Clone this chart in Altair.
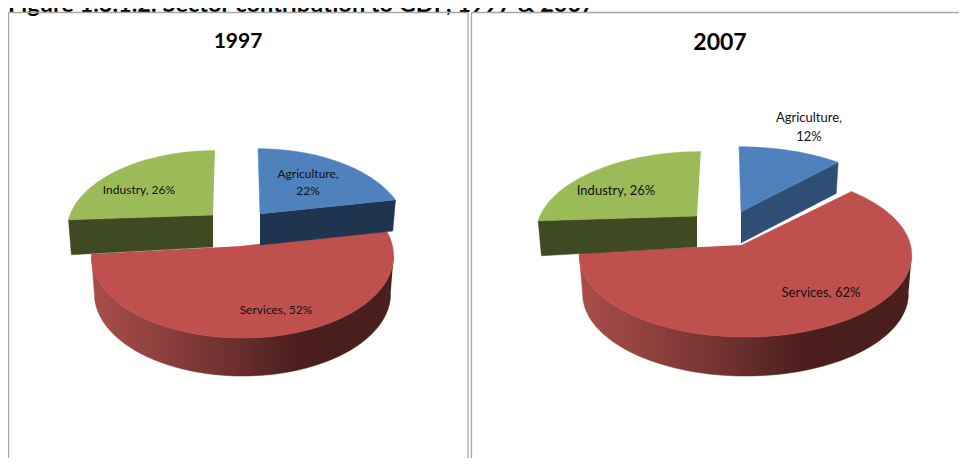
import math
import altair as alt
import pandas as pd

# ---- values ----
caption = "Figure 1.3.1.2: Sector contribution to GDP, 1997 & 2007"
years = ["1997", "2007"]
sectors = ["Agriculture", "Services", "Industry"]
shares_1997 = [22, 52, 26]
shares_2007 = [12, 62, 26]

# ---- styles ----
FONT = "Lato"
TOP = {"Agriculture": "#4F81BD", "Services": "#C0504D", "Industry": "#9BBB59"}
SIDE_1997 = {"Agriculture": "#1F344F", "Industry": "#3F4922"}
SIDE_2007 = {"Agriculture": "#2F4E75", "Industry": "#3F4922"}
GRAD = alt.LinearGradient(
    gradient="linear", x1=0, x2=1, y1=0, y2=0,
    stops=[
        alt.GradientStop(color="#A84E4A", offset=0),
        alt.GradientStop(color="#8A3E3B", offset=0.25),
        alt.GradientStop(color="#6A2F2E", offset=0.48),
        alt.GradientStop(color="#4B1E1C", offset=0.68),
        alt.GradientStop(color="#4A1F1D", offset=1),
    ],
)

# ---- layout of the exploded perspective wedges (page pixels) ----
LAYOUT_1997 = {
    "Agriculture": dict(ax=260, ay=214, A=143, B=77, k=0.18, depth=31, skew=0.0, shear=-0.03, rot0=0, rot1=0),
    "Services": dict(ax=242.5, ay=246, A=150, B=81, k=0.12, depth=38, skew=0.0, shear=0.0, rot0=0, rot1=-2),
    "Industry": dict(ax=213, ay=215, A=143, B=76, k=0.18, depth=32, skew=-0.02, shear=0.03, rot0=0, rot1=0),
}
LAYOUT_2007 = {
    "Agriculture": dict(ax=741, ay=212, A=163, B=77, k=0.18, depth=31, skew=0.0, shear=-0.03, rot0=0, rot1=0),
    "Services": dict(ax=745.5, ay=245, apex_x=742, A=165, B=81, k=0.12, depth=39, skew=0.0, shear=0.0, rot0=1, rot1=-2),
    "Industry": dict(ax=697, ay=216, A=157, B=76, k=0.18, depth=31, skew=-0.025, shear=0.06, rot0=0, rot1=0),
}
LABELS_1997 = {"Agriculture": (308, 173.5), "Services": (276, 310), "Industry": (139, 190)}
LABELS_2007 = {"Agriculture": (809, 118), "Services": (821, 293), "Industry": (616, 191)}

W, H = 951, 450
X = alt.Scale(domain=[8, 8 + W], range=[0, W])
Y = alt.Scale(domain=[8, 8 + H], range=[0, H])


def project(p, theta):
    t = math.radians(theta)
    d = math.cos(t)
    w = 1 + p["k"] * d
    dx = p["A"] * math.sin(t) / w
    dy = -p["B"] * d / w
    return p["ax"] + dx - p["shear"] * dy, p["ay"] + dy


def lower(p, pt):
    dx, dy = pt[0] - p["ax"], pt[1] - p["ay"]
    return (p["ax"] + 0.98 * dx,
            p["ay"] + p["depth"] + dy + p["skew"] * dx)


def polygon(pts, fill):
    df = pd.DataFrame({"x": [q[0] for q in pts], "y": [q[1] for q in pts],
                       "o": list(range(len(pts)))})
    return alt.Chart(df).mark_line(fill=fill, stroke=fill, strokeWidth=0.5).encode(
        x=alt.X("x:Q", scale=X, axis=None),
        y=alt.Y("y:Q", scale=Y, axis=None),
        order=alt.Order("o:Q"),
    )


def wedges(shares, layout, side):
    spans, start = {}, 0.0
    for s, v in zip(sectors, shares):
        spans[s] = (start, start + v * 3.6)
        start += v * 3.6
    out = []
    # Services first, the two other wedges overlap it
    for s in ["Services", "Industry", "Agriculture"]:
        p = layout[s]
        a, b = spans[s][0] + p["rot0"], spans[s][1] + p["rot1"]
        n = 72
        arc = [project(p, a + (b - a) * i / n) for i in range(n + 1)]
        apex = (p.get("apex_x", p["ax"]), p["ay"])
        if s == "Services":
            # only the front of the rim can be seen
            lo, hi = max(a, 97.0), min(b, 263.0)
            rim = [project(p, lo + (hi - lo) * i / n) for i in range(n + 1)]
            out.append(polygon(rim + [lower(p, q) for q in reversed(rim)], GRAD))
        else:
            corner = arc[0] if s == "Industry" else arc[-1]
            out.append(polygon([apex, corner, lower(p, corner), lower(p, apex)], side[s]))
        out.append(polygon([apex] + arc, TOP[s]))
    return out


def labels(shares, positions, size, line_height):
    rows = []
    for s, v in zip(sectors, shares):
        sep = "\n" if s == "Agriculture" else " "
        rows.append({"t": f"{s},{sep}{v}%", "x": positions[s][0], "y": positions[s][1]})
    return alt.Chart(pd.DataFrame(rows)).mark_text(
        font=FONT, fontSize=size, color="#111111", align="center", baseline="middle",
        lineBreak="\n", lineHeight=line_height,
    ).encode(
        x=alt.X("x:Q", scale=X, axis=None),
        y=alt.Y("y:Q", scale=Y, axis=None),
        text="t:N",
    )


def text_at(t, x, y, size, align="center", baseline="middle"):
    df = pd.DataFrame({"t": [t], "x": [x], "y": [y]})
    return alt.Chart(df).mark_text(
        font=FONT, fontSize=size, fontWeight="bold", color="#000000",
        align=align, baseline=baseline,
    ).encode(
        x=alt.X("x:Q", scale=X, axis=None),
        y=alt.Y("y:Q", scale=Y, axis=None),
        text="t:N",
    )


frames = pd.DataFrame({
    "x": [8.5, 468, 8.5, 471.5, 471.5],
    "x2": [8.5, 468, 468, 967, 471.5],
    "y": [12.5, 12.5, 12.5, 12.5, 12.5],
    "y2": [466, 466, 12.5, 12.5, 466],
})
frame = alt.Chart(frames).mark_rule(color="#A6A6A6", strokeWidth=1.3).encode(
    x=alt.X("x:Q", scale=X, axis=None),
    x2="x2:Q",
    y=alt.Y("y:Q", scale=Y, axis=None),
    y2="y2:Q",
)

layers = [
    text_at(caption, 8, 11.5, 23.5, align="left", baseline="alphabetic"),
    frame,
    text_at(years[0], 238, 41.5, 21),
    text_at(years[1], 720, 42.5, 23),
]
layers += wedges(shares_1997, LAYOUT_1997, SIDE_1997)
layers += wedges(shares_2007, LAYOUT_2007, SIDE_2007)
layers += [labels(shares_1997, LABELS_1997, 12, 17), labels(shares_2007, LABELS_2007, 13, 19)]

chart = alt.layer(*layers).properties(
    width=W, height=H, padding=0, autosize=alt.AutoSizeParams(type="none"),
).configure_view(stroke=None)

chart.save("out.html", embed_options={"renderer": "svg", "actions": False})
